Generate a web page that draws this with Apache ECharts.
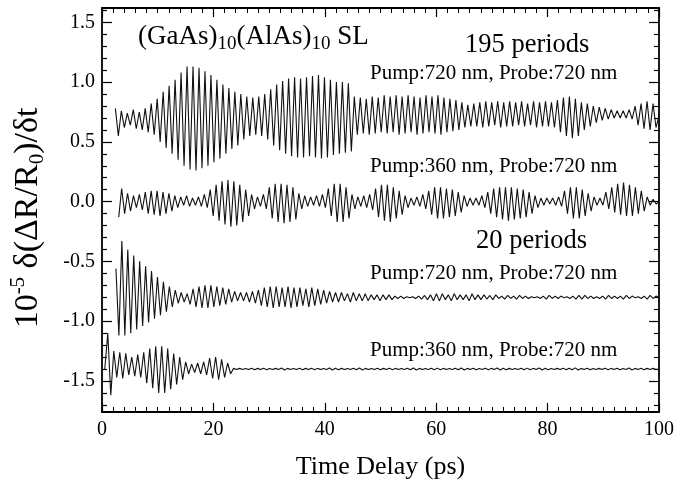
<!DOCTYPE html>
<html>
<head>
<meta charset="utf-8">
<script src="https://cdn.jsdelivr.net/npm/echarts@6/dist/echarts.min.js"></script>
<style>
html,body{margin:0;padding:0;background:#fff;}
#chart{width:677px;height:485px;}
</style>
</head>
<body>
<div id="chart"></div>
<script>
// start time of each trace (ps), all traces run to timeEnd
var timeStart = [2.4, 3.0, 2.5, 0.5];
var timeEnd = 100;

// 195 periods, pump 720 / probe 720 : successive peak / trough values
var p195Pump720 = [0.78,0.55,
	0.76,0.62,0.74,0.64,0.77,0.61,0.75,0.60,0.78,0.58,
	0.82,0.56,0.86,0.50,0.92,0.45,0.97,0.40,1.02,0.35,1.08,0.30,
	1.13,0.27,1.13,0.26,1.12,0.28,
	1.09,0.30,1.06,0.33,1.02,0.36,0.98,0.40,0.95,0.44,0.92,0.47,
	0.90,0.52,0.88,0.55,0.87,0.56,0.88,0.55,0.90,0.52,
	0.94,0.47,0.98,0.43,1.01,0.40,1.03,0.38,1.04,0.37,1.03,0.37,
	1.04,0.38,1.05,0.37,1.06,0.36,1.04,0.37,1.02,0.39,1.00,0.40,1.00,0.41,0.99,0.42,
	0.88,0.56,0.87,0.57,0.86,0.56,0.88,0.57,0.87,0.58,0.89,0.57,0.88,0.58,0.89,0.56,0.88,0.57,
	0.89,0.58,0.88,0.56,0.87,0.57,0.89,0.58,0.88,0.57,0.89,0.56,0.87,0.58,0.86,0.59,0.85,0.60,
	0.83,0.62,0.81,0.63,0.82,0.63,0.83,0.62,
	0.84,0.63,0.83,0.64,0.84,0.62,0.83,0.63,0.84,0.63,0.83,0.64,
	0.84,0.63,0.82,0.64,0.84,0.62,0.83,0.63,0.84,0.63,0.83,0.62,
	0.85,0.58,0.87,0.55,0.88,0.53,0.86,0.55,0.83,0.60,
	0.82,0.63,0.80,0.66,0.79,0.68,0.78,0.69,0.77,0.70,
	0.76,0.70,0.76,0.70,0.77,0.69,
	0.80,0.64,0.82,0.61,0.84,0.60,0.82,0.62,
	0.72];

// 195 periods, pump 360 / probe 720
var p195Pump360 = [-0.13,
	0.11,-0.10,
	0.07,-0.08,0.05,-0.05,0.06,-0.07,
	0.08,-0.10,0.09,-0.11,0.09,-0.12,0.08,-0.10,0.07,-0.08,
	0.05,-0.05,0.04,-0.03,0.05,-0.04,0.03,-0.03,0.04,-0.04,0.06,-0.05,
	0.10,-0.12,0.14,-0.16,0.17,-0.19,0.18,-0.21,0.17,-0.20,0.14,-0.17,0.10,-0.12,
	0.06,-0.06,0.04,-0.04,0.06,-0.06,
	0.12,-0.14,0.15,-0.17,0.15,-0.18,0.14,-0.17,0.12,-0.15,
	0.07,-0.06,0.05,-0.04,0.04,-0.03,0.05,-0.04,0.06,-0.05,
	0.11,-0.12,0.15,-0.17,0.15,-0.17,0.12,-0.14,
	0.06,-0.06,0.04,-0.04,0.05,-0.05,0.06,-0.07,
	0.11,-0.13,0.14,-0.16,0.14,-0.17,0.12,-0.14,0.09,-0.11,
	0.05,-0.05,0.03,-0.03,0.04,-0.04,0.06,-0.06,
	0.09,-0.11,0.12,-0.14,0.12,-0.14,0.11,-0.13,0.10,-0.12,0.08,-0.09,
	0.05,-0.04,0.03,-0.03,0.03,-0.03,0.05,-0.05,
	0.08,-0.10,0.11,-0.13,0.12,-0.15,0.12,-0.16,0.12,-0.15,0.11,-0.14,0.10,-0.13,0.08,-0.10,
	0.05,-0.05,0.03,-0.03,0.03,-0.02,0.03,-0.03,0.04,-0.04,
	0.09,-0.10,0.12,-0.14,0.12,-0.14,0.10,-0.12,0.07,-0.08,
	0.04,-0.03,0.03,-0.03,
	0.08,-0.06,0.12,-0.09,0.15,-0.11,0.16,-0.12,0.14,-0.12,0.12,-0.10,0.09,-0.08,
	0.04,-0.03,0.02,-0.02,
	0.0];

// 20 periods, pump 720 / probe 720
var p20Pump720 = [-0.56,
	-1.12,-0.33,-1.12,-0.40,-1.10,-0.45,-1.07,-0.50,-1.04,-0.54,-1.01,-0.58,-0.98,-0.63,-0.95,-0.67,-0.92,-0.71,
	-0.88,-0.74,-0.85,-0.76,-0.84,-0.77,
	-0.86,-0.73,-0.88,-0.71,-0.89,-0.70,-0.89,-0.70,-0.88,-0.71,-0.87,-0.72,-0.86,-0.73,
	-0.84,-0.75,-0.83,-0.76,-0.83,-0.76,-0.84,-0.75,-0.85,-0.74,
	-0.87,-0.72,-0.88,-0.71,-0.89,-0.71,-0.88,-0.72,-0.88,-0.71,-0.89,-0.72,
	-0.88,-0.72,-0.87,-0.73,-0.88,-0.72,-0.87,-0.73,-0.86,-0.74,-0.85,-0.75,
	-0.84,-0.76,-0.84,-0.76,-0.83,-0.77,-0.84,-0.76,-0.83,-0.77,-0.83,-0.77,
	-0.83,-0.78,-0.82,-0.78,-0.83,-0.78,-0.82,-0.78,-0.82,-0.79,
	-0.81,-0.79,-0.81,-0.795,-0.805,-0.795,-0.81,-0.79,-0.815,-0.785,
	-0.82,-0.78,-0.83,-0.77,-0.83,-0.77,-0.82,-0.78,-0.83,-0.77,-0.82,-0.78,-0.82,-0.78,-0.83,-0.77,-0.82,-0.78,
	-0.82,-0.78,-0.815,-0.785,-0.82,-0.78,-0.81,-0.79,-0.815,-0.785,-0.81,-0.79,-0.815,-0.785,-0.81,-0.79,-0.81,-0.795,-0.805,-0.795,
	-0.81,-0.79,-0.815,-0.785,-0.81,-0.79,-0.81,-0.79,-0.805,-0.795,-0.81,-0.79,-0.815,-0.785,-0.815,-0.785,-0.81,-0.79,-0.81,-0.795,
	-0.81,-0.79,-0.815,-0.785,-0.81,-0.79,-0.81,-0.79,-0.815,-0.785,-0.81,-0.79,-0.805,-0.795,-0.81,-0.79,-0.815,-0.785,-0.81,-0.79,
	-0.80];

// 20 periods, pump 360 / probe 720
var p20Pump360 = [-1.40,
	-1.10,-1.62,
	-1.25,-1.47,-1.26,-1.48,-1.27,-1.45,
	-1.30,-1.46,-1.28,-1.47,-1.26,-1.52,
	-1.23,-1.56,-1.21,-1.60,-1.21,-1.60,-1.23,-1.57,
	-1.27,-1.53,-1.30,-1.49,
	-1.34,-1.44,-1.36,-1.43,-1.35,-1.44,-1.34,-1.45,
	-1.31,-1.48,-1.30,-1.49,-1.32,-1.47,-1.35,-1.44,
	-1.395,-1.405,-1.395,-1.404,-1.396,-1.405,-1.394,-1.406,-1.395,-1.405,-1.393,-1.407,-1.396,-1.404,-1.395,-1.405,-1.392,-1.408,-1.395,-1.405,
	-1.396,-1.404,-1.394,-1.406,-1.395,-1.405,-1.393,-1.407,-1.395,-1.405,-1.396,-1.404,-1.392,-1.408,-1.394,-1.406,-1.395,-1.405,-1.396,-1.404,
	-1.394,-1.406,-1.392,-1.408,-1.395,-1.405,-1.396,-1.404,-1.394,-1.406,-1.395,-1.405,-1.393,-1.407,-1.395,-1.405,-1.396,-1.404,-1.394,-1.406,
	-1.392,-1.408,-1.395,-1.405,-1.396,-1.404,-1.394,-1.406,-1.393,-1.407,-1.395,-1.405,-1.396,-1.404,-1.394,-1.406,-1.392,-1.408,-1.395,-1.405,
	-1.394,-1.406,-1.396,-1.404,-1.393,-1.407,-1.395,-1.405,-1.392,-1.408,-1.394,-1.406,-1.395,-1.405,-1.396,-1.404,-1.394,-1.406,-1.393,-1.407,
	-1.395,-1.405,-1.392,-1.408,-1.394,-1.406,-1.396,-1.404,-1.395,-1.405,-1.393,-1.407,-1.394,-1.406,-1.391,-1.409,-1.395,-1.405,-1.394,-1.406,
	-1.396,-1.404,-1.395,-1.405,-1.393,-1.407,-1.395,-1.405,-1.394,-1.406,-1.396,-1.404,-1.392,-1.408,-1.395,-1.405,-1.394,-1.406,-1.395,-1.405,
	-1.395,-1.405,
	-1.40];

var yMajor = [-1.5,-1.0,-0.5,0,0.5,1.0,1.5];
var yMinor = [-1.7,-1.6,-1.4,-1.3,-1.2,-1.1,-0.9,-0.8,-0.7,-0.6,-0.4,-0.3,-0.2,-0.1,
	0.1,0.2,0.3,0.4,0.6,0.7,0.8,0.9,1.1,1.2,1.3,1.4,1.6];

var serif = "'Liberation Serif','Times New Roman',serif";

function toPoints(vals, t0){
	var h = (timeEnd - t0) / (vals.length - 1);
	var pts = [];
	for(var i=0;i<vals.length;i++){
		pts.push([t0 + i*h, vals[i]]);
	}
	return pts;
}

function xAx(pos, showLabel){
	return {
		type:'value', position:pos, min:0, max:100, interval:20,
		axisLine:{show:true, onZero:false, lineStyle:{color:'#000', width:1.8}},
		axisTick:{show:true, inside:true, length:9, lineStyle:{color:'#000', width:1.2}},
		minorTick:{show:true, splitNumber:10, length:5, lineStyle:{color:'#000', width:1}},
		splitLine:{show:false}, minorSplitLine:{show:false},
		axisLabel:{show:showLabel, color:'#000', fontFamily:serif, fontSize:20, margin:8}
	};
}

function yAx(pos, ticks, len, showLine, showLabel){
	return {
		type:'value', position:pos, min:-1.76, max:1.62,
		axisLine:{show:showLine, onZero:false, lineStyle:{color:'#000', width:1.8}},
		axisTick:{show:true, inside:true, length:len, customValues:ticks, lineStyle:{color:'#000', width:1.2}},
		splitLine:{show:false},
		axisLabel:{show:showLabel, customValues:ticks, color:'#000', fontFamily:serif, fontSize:20, margin:7,
			formatter:function(v){ return v.toFixed(1); }}
	};
}

var xBottom = xAx('bottom', true);
xBottom.name = 'Time Delay (ps)';
xBottom.nameLocation = 'middle';
xBottom.nameGap = 42;
xBottom.nameTextStyle = {color:'#000', fontFamily:serif, fontSize:26};

var yLeft = yAx('left', yMajor, 10, true, true);
yLeft.name = '{n|10}{sup|-5}{n| δ(ΔR/R}{sub|0}{n|)/δt}';
yLeft.nameLocation = 'middle';
yLeft.nameRotate = 90;
yLeft.nameGap = 54;
yLeft.nameTextStyle = {color:'#000', fontFamily:serif, fontSize:34, padding:[0,16,0,0], rich:{
	n:{fontFamily:serif, fontSize:34, color:'#000', lineHeight:40},
	sup:{fontFamily:serif, fontSize:21, color:'#000', lineHeight:20, verticalAlign:'top'},
	sub:{fontFamily:serif, fontSize:21, color:'#000', lineHeight:20, verticalAlign:'bottom'}
}};

var traces = [p195Pump720, p195Pump360, p20Pump720, p20Pump360];
var series = [];
for(var k=0;k<traces.length;k++){
	series.push({
		type:'line', xAxisIndex:0, yAxisIndex:0, showSymbol:false, symbol:'none',
		lineStyle:{color:'#111', width:1.1}, data:toPoints(traces[k], timeStart[k]),
		silent:true
	});
}

function label(text, x, y, size){
	return {type:'text', x:x, y:y, silent:true, style:{text:text, fill:'#000',
		font:size+'px '+serif, verticalAlign:'middle', align:'left'}};
}

var option = {
	animation:false,
	backgroundColor:'#fff',
	grid:{left:99, right:15, top:8, bottom:72, containLabel:false},
	xAxis:[xBottom, xAx('top', false)],
	yAxis:[yLeft, yAx('left', yMinor, 5, false, false), yAx('right', yMajor, 10, true, false), yAx('right', yMinor, 5, false, false)],
	series:series,
	graphic:[
		{type:'text', x:138, y:37, silent:true, style:{
			text:'{n|(GaAs)}{s|10}{n|(AlAs)}{s|10}{n| SL}', fill:'#000', verticalAlign:'middle',
			font:'27px '+serif,
			rich:{
				n:{fontFamily:serif, fontSize:27, fill:'#000', lineHeight:34},
				s:{fontFamily:serif, fontSize:19, fill:'#000', lineHeight:18, verticalAlign:'bottom'}
			}}},
		label('195 periods', 465, 45, 26.5),
		label('Pump:720 nm, Probe:720 nm', 370, 73, 21),
		label('Pump:360 nm, Probe:720 nm', 370, 166, 21),
		label('20 periods', 476, 241, 26.5),
		label('Pump:720 nm, Probe:720 nm', 370, 273, 21),
		label('Pump:360 nm, Probe:720 nm', 370, 350, 21)
	]
};

var myChart = echarts.init(document.getElementById('chart'));
myChart.setOption(option);
</script>
</body>
</html>
